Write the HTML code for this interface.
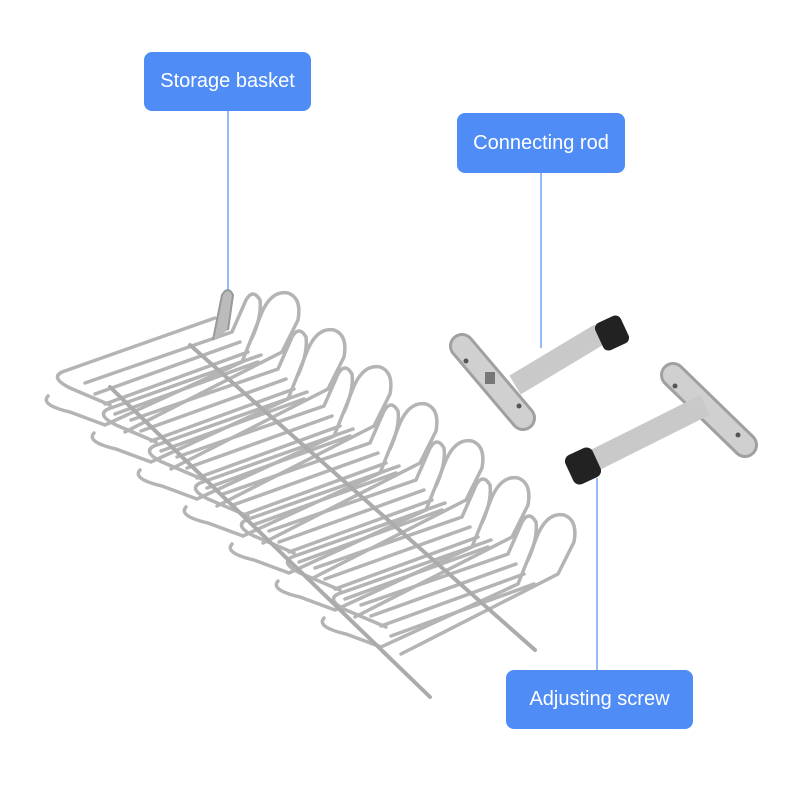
<!DOCTYPE html>
<html><head><style>
body{margin:0;background:#fff;width:800px;height:800px;overflow:hidden;position:relative;font-family:"Liberation Sans",sans-serif}
.lbl{position:absolute;background:#4f8cf6;color:#fff;border-radius:8px;font-size:20px;display:flex;align-items:center;justify-content:center}
</style></head><body>
<svg width="800" height="800" style="position:absolute;left:0;top:0">
<defs>
<g id="u" fill="none" stroke="#b4b4b4" stroke-width="3.5" stroke-linecap="round">
 <path d="M62,372 Q50,378 70,388 L110,405 M62,372 L215,318"/>
 <path d="M48,396 Q40,405 70,412 L105,425 L242,362 L262,312 Q272,290 288,293 Q302,298 298,320 L282,352 L125,432"/>
 <path d="M85,383 L232,332 L246,300 Q253,288 260,300 Q262,316 252,338"/>
 <line x1="95" y1="394" x2="240" y2="342"/>
 <line x1="105" y1="404" x2="248" y2="352"/>
 <line x1="115" y1="414" x2="258" y2="362"/>
</g>
</defs>
<use href="#u"/>
<use href="#u" transform="translate(46,37)"/>
<use href="#u" transform="translate(92,74)"/>
<use href="#u" transform="translate(138,111)"/>
<use href="#u" transform="translate(184,148)"/>
<use href="#u" transform="translate(230,185)"/>
<use href="#u" transform="translate(276,222)"/>
<g stroke="#ababab" stroke-width="4" stroke-linecap="round">
<line x1="190" y1="345" x2="535" y2="650"/>
<line x1="110" y1="387" x2="430" y2="697"/>
</g>
<path d="M213,340 L222,295 Q228,285 233,295 L228,330" fill="#bbb" stroke="#999" stroke-width="2"/>
<g stroke="#4f8cf6" stroke-width="1.2">
<line x1="228" y1="110" x2="228" y2="290"/>
<line x1="541" y1="172" x2="541" y2="348"/>
<line x1="597" y1="478" x2="597" y2="670"/>
</g>
<line x1="515" y1="385" x2="600" y2="334" stroke="#c9c9c9" stroke-width="22"/>
<line x1="462" y1="346" x2="523" y2="418" stroke="#a0a0a0" stroke-width="26" stroke-linecap="round"/>
<line x1="462" y1="346" x2="523" y2="418" stroke="#d0d0d0" stroke-width="20" stroke-linecap="round"/>
<circle cx="466" cy="361" r="2.5" fill="#555"/><circle cx="519" cy="406" r="2.5" fill="#555"/>
<rect x="485" y="372" width="10" height="12" fill="#777"/>
<rect x="598" y="318" width="28" height="30" rx="6" fill="#222" transform="rotate(-25 612 333)"/>
<line x1="673" y1="375" x2="745" y2="445" stroke="#a0a0a0" stroke-width="26" stroke-linecap="round"/>
<line x1="673" y1="375" x2="745" y2="445" stroke="#d0d0d0" stroke-width="20" stroke-linecap="round"/>
<circle cx="675" cy="386" r="2.5" fill="#555"/><circle cx="738" cy="435" r="2.5" fill="#555"/>
<line x1="705" y1="405" x2="595" y2="460" stroke="#c9c9c9" stroke-width="22"/>
<rect x="568" y="450" width="30" height="32" rx="7" fill="#222" transform="rotate(-25 583 466)"/>
</svg>
<div class="lbl" style="left:144px;top:52px;width:167px;height:59px">Storage basket</div>
<div class="lbl" style="left:457px;top:113px;width:168px;height:60px">Connecting rod</div>
<div class="lbl" style="left:506px;top:670px;width:187px;height:59px">Adjusting screw</div>
</body></html>
